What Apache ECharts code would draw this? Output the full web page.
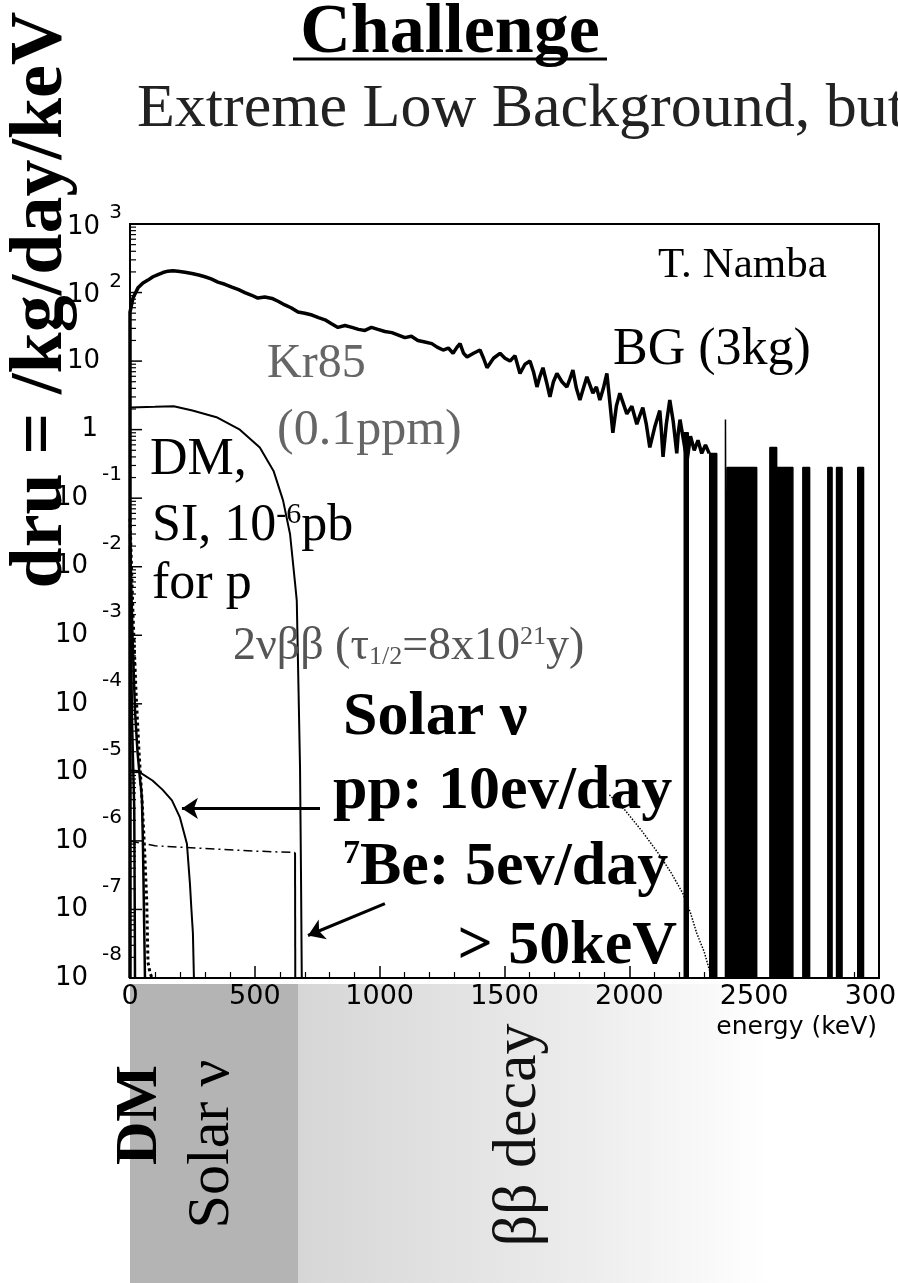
<!DOCTYPE html>
<html>
<head>
<meta charset="utf-8">
<title>Challenge</title>
<script src="https://cdn.jsdelivr.net/npm/echarts@6/dist/echarts.min.js"></script>
<style>
  html, body { margin: 0; padding: 0; background: #fff; }
  #main { width: 898px; height: 1283px; }
</style>
</head>
<body>
<div id="main"></div>
<script>
// axes
var xTicks = [0, 500, 1000, 1500, 2000, 2500, 3000];
var yTickExp = [-8, -7, -6, -5, -4, -3, -2, -1, 0, 1, 2, 3];
var minorMult = [2, 3, 4, 5, 6, 7, 8, 9];

// BG (3kg) measured spectrum, energy in keV, rate in dru
var bgE = [0, 0, 12, 32, 52, 72, 92, 112, 132, 152,
  172, 192, 220, 248, 275, 300, 325, 352, 380, 408,
  435, 460, 485, 512, 540, 569, 595, 620, 645, 673,
  700, 729, 755, 781, 807, 833, 861, 889, 915, 941,
  967, 993, 1021, 1049, 1075, 1101, 1127, 1153, 1181, 1209,
  1230, 1254, 1275, 1294, 1310, 1322, 1336, 1350, 1376, 1402,
  1416, 1430, 1456, 1482, 1502, 1522, 1542, 1562, 1582, 1602,
  1616, 1630, 1642, 1654, 1668, 1682, 1696, 1710, 1730, 1750,
  1762, 1774, 1788, 1802, 1816, 1830, 1842, 1854, 1868, 1882,
  1896, 1910, 1922, 1934, 1948, 1962, 1976, 1990, 2010, 2030,
  2042, 2054, 2068, 2082, 2102, 2122, 2128, 2135, 2148, 2162,
  2176, 2190, 2196, 2203, 2217, 2231, 2245, 2260, 2275, 2290,
  2305, 2320];
var bgV = [1e-8, 52, 83, 117, 138, 152, 170, 183, 196, 205,
  208, 204, 198, 190, 180, 170, 158, 142, 132, 120,
  110, 100, 92, 83, 86, 82, 74, 66, 60, 52,
  50, 47, 43, 40, 35, 31, 33, 31, 29, 28,
  31, 29, 27, 26, 24, 22, 23, 20, 19, 18,
  16, 14.5, 15.5, 13, 16, 18, 13, 11.5, 13, 14.5,
  11, 8, 11, 13, 11, 10, 12, 6.6, 9, 10,
  7, 4.2, 6, 8, 5, 3, 5, 6.6, 5, 4.2,
  5.5, 7.4, 4, 2.7, 4, 5.9, 4.5, 3.4, 4.2, 2.7,
  4, 6.6, 2.5, 0.9, 2.2, 3.4, 2.4, 1.7, 2.2, 1.2,
  1.6, 2.1, 1.2, 0.55, 1.1, 1.9, 1.0, 0.4, 1.2, 2.7,
  1.3, 0.45, 0.9, 1.4, 0.7, 0.35, 0.8, 0.5, 0.7, 0.45,
  0.6, 0.45];

// sparse high-energy bins of BG (bins with counts, empty elsewhere)
var blkStart = [2220, 2322, 2385, 2392, 2563, 2590, 2695, 2795, 2830, 2915];
var blkEnd   = [2236, 2350, 2392, 2510, 2590, 2655, 2722, 2812, 2852, 2938];
var blkTop   = [0.9, 0.45, 1.4, 0.28, 0.55, 0.28, 0.28, 0.28, 0.28, 0.28];

// Kr85 (0.1 ppm)
var krE = [0, 100, 175, 250, 350, 440, 520, 575, 613, 641, 661, 668, 675, 681, 685, 688];
var krV = [2.1, 2.15, 2.2, 1.9, 1.5, 1.0, 0.55, 0.25, 0.093, 0.03, 0.0058, 0.0032, 1.6e-4, 1.2e-5, 3e-7, 1e-8];

// 2vbb (visible tail)
var bbE = [1920, 1983, 2050, 2120, 2170, 2215, 2245, 2270, 2300, 2322, 2335];
var bbV = [4.7e-6, 2.8e-6, 1.4e-6, 6.3e-7, 3.3e-7, 1.7e-7, 8.9e-8, 4.5e-8, 2.4e-8, 1.26e-8, 1e-8];

// solar pp
var ppE = [0, 30, 90, 130, 168, 200, 228, 240, 246, 252, 256];
var ppV = [1.07e-5, 1.05e-5, 7.6e-6, 5.6e-6, 3.9e-6, 2.2e-6, 9.1e-7, 2.4e-7, 1e-7, 4.5e-8, 1e-8];

// solar 7Be
var beE = [0, 30, 100, 200, 350, 500, 650, 661, 662];
var beV = [1.0e-6, 9.5e-7, 8.5e-7, 8.1e-7, 7.6e-7, 7.1e-7, 6.8e-7, 6.8e-7, 1e-8];

// DM, SI 1e-6 pb
var dmAE = [0, 4, 8, 12, 17, 19, 20];
var dmAV = [2e-2, 1e-3, 6e-5, 1.5e-5, 3e-6, 1e-7, 1e-8];
var dmBE = [0, 10, 20, 30, 40, 44, 48, 52, 55, 58, 60];
var dmBV = [3e-2, 1e-3, 8e-5, 2e-5, 8e-6, 6e-6, 4e-6, 8e-7, 1.5e-7, 3e-8, 1e-8];
var dmCE = [0, 12, 24, 36, 48, 58, 67, 72, 80, 88];
var dmCV = [5e-2, 2e-3, 1.5e-4, 2e-5, 4e-6, 8e-7, 1.3e-7, 1.7e-8, 1.2e-8, 1e-8];

// annotation arrows [from, to] in keV / dru
var arrowPP = [[761, 2.98e-6], [208, 2.98e-6]];
var arrowBe = [[1021, 1.22e-7], [713, 4.17e-8]];

function zip(e, v) {
  var out = [];
  for (var i = 0; i < e.length; i++) out.push([e[i], v[i]]);
  return out;
}

var blkData = [];
for (var i = 0; i < blkStart.length; i++) {
  blkData.push([blkStart[i], 1e-8], [blkStart[i], blkTop[i]], [blkEnd[i], blkTop[i]], [blkEnd[i], 1e-8]);
}
blkData.unshift([2200, 1e-8]);
blkData.push([3000, 1e-8]);

// decade ticks (major, labelled) and 2..9 minor ticks on the log axis
var majorTicks = yTickExp.map(function (e) { return [0, Math.pow(10, e), e]; });
var minorTicks = [];
yTickExp.slice(0, -1).forEach(function (e) {
  minorMult.forEach(function (m) { minorTicks.push([0, m * Math.pow(10, e)]); });
});

var serif = '"Liberation Serif", "Times New Roman", serif';
var sans = '"DejaVu Sans", sans-serif';

var chart = echarts.init(document.getElementById('main'));

function txt(x, y, text, size, opts) {
  opts = opts || {};
  return {
    type: 'text', x: x, y: y, z: 100, rotation: opts.rotation || 0,
    style: {
      text: text,
      font: (opts.weight || 'normal') + ' ' + size + 'px ' + (opts.family || serif),
      fill: opts.color || '#000',
      textAlign: opts.align || 'left',
      textVerticalAlign: 'middle',
      rich: opts.rich
    }
  };
}

function tickText(x, y, s, size) {
  return { type: 'text', x: x, y: y,
    style: { text: s, font: size + 'px ' + sans, fill: '#000', textAlign: 'right', textVerticalAlign: 'middle' } };
}

var lineBase = { type: 'line', showSymbol: false, symbol: 'none', silent: true, z: 5 };
function mk(o) { return Object.assign({}, lineBase, o); }

var option = {
  animation: false,
  backgroundColor: '#fff',
  grid: { left: 130, right: 19, top: 224, bottom: 305, show: true, borderColor: '#000', borderWidth: 2,
    outerBoundsMode: 'none', containLabel: false },
  xAxis: {
    type: 'value', min: xTicks[0], max: xTicks[xTicks.length - 1], interval: xTicks[1] - xTicks[0],
    axisLine: { lineStyle: { color: '#000', width: 2 } },
    axisTick: { inside: true, length: 12, lineStyle: { color: '#000', width: 1.5 } },
    minorTick: { show: true, splitNumber: 5, length: 6, lineStyle: { color: '#000', width: 1.2 } },
    splitLine: { show: false },
    axisLabel: { color: '#000', fontFamily: sans, fontSize: 27, margin: 5, hideOverlap: false,
      formatter: function (v) { return String(v); } }
  },
  yAxis: {
    type: 'log', logBase: 10, min: 1e-8, max: 1e3,
    axisLine: { lineStyle: { color: '#000', width: 2 } },
    axisTick: { show: false },
    axisLabel: { show: false },
    splitLine: { show: false }
  },
  graphic: [
    // shaded bands under the axis
    { type: 'rect', z: 0, shape: { x: 298, y: 984, width: 470, height: 299 },
      style: { fill: { type: 'linear', x: 0, y: 0, x2: 1, y2: 0,
        colorStops: [{ offset: 0, color: '#d6d6d6' }, { offset: 0.6, color: '#ececec' }, { offset: 1, color: '#ffffff' }] } } },
    { type: 'rect', z: 0, shape: { x: 130, y: 984, width: 168, height: 299 }, style: { fill: '#b4b4b4' } },
    // title
    txt(450, 34, 'Challenge', 70, { weight: 'bold', align: 'center' }),
    { type: 'line', z: 100, shape: { x1: 293, y1: 59, x2: 607, y2: 59 }, style: { stroke: '#000', lineWidth: 3 } },
    txt(137, 110, 'Extreme Low Background, but', 62, { color: '#222' }),
    // y axis name
    txt(42, 300, 'dru = /kg/day/keV', 74, { weight: 'bold', align: 'center', rotation: Math.PI / 2 }),
    // annotations inside the plot
    txt(658, 266, 'T. Namba', 43),
    txt(613, 350, 'BG (3kg)', 52),
    txt(267, 364, 'Kr85', 48, { color: '#666' }),
    txt(277, 431, '(0.1ppm)', 50, { color: '#666' }),
    txt(150, 460, 'DM,', 52),
    txt(152, 526, '{a|SI, 10}{s|-6}{a|pb}', 52, { rich: {
      a: { fontFamily: serif, fontSize: 52, lineHeight: 52 },
      s: { fontFamily: serif, fontSize: 30, lineHeight: 30, verticalAlign: 'top' } } }),
    txt(152, 584, 'for p', 52),
    txt(233, 647, '{a|2νββ (τ}{d|1/2}{a|=8x10}{u|21}{a|y)}', 46, { color: '#555', rich: {
      a: { fontFamily: serif, fontSize: 46, lineHeight: 46, color: '#555' },
      d: { fontFamily: serif, fontSize: 26, lineHeight: 26, verticalAlign: 'bottom', color: '#555' },
      u: { fontFamily: serif, fontSize: 26, lineHeight: 26, verticalAlign: 'top', color: '#555' } } }),
    txt(343, 718, 'Solar ν', 62, { weight: 'bold' }),
    txt(333, 792, 'pp: 10ev/day', 62, { weight: 'bold' }),
    txt(343, 868, '{u|7}{a|Be: 5ev/day}', 62, { rich: {
      a: { fontFamily: serif, fontSize: 62, fontWeight: 'bold', lineHeight: 62 },
      u: { fontFamily: serif, fontSize: 34, fontWeight: 'bold', lineHeight: 34, verticalAlign: 'top' } } }),
    txt(677, 947, '> 50keV', 62, { weight: 'bold', align: 'right' }),
    txt(877, 1027, 'energy (keV)', 25, { family: sans, align: 'right' }),
    // vertical labels under the axis
    txt(140, 1115, 'DM', 60, { weight: 'bold', align: 'center', rotation: Math.PI / 2 }),
    txt(212, 1144, 'Solar ν', 60, { align: 'center', rotation: Math.PI / 2 }),
    txt(519, 1135, 'ββ decay', 62, { align: 'center', rotation: Math.PI / 2, color: '#111' })
  ],
  series: [
    mk({ name: 'BG', data: zip(bgE, bgV), lineStyle: { color: '#000', width: 3.5 } }),
    mk({ name: 'BG sparse', data: blkData, lineStyle: { color: '#000', width: 1.5 },
      areaStyle: { color: '#000', opacity: 1, origin: 'start' } }),
    mk({ name: 'Kr85', data: zip(krE, krV), lineStyle: { color: '#000', width: 2 } }),
    mk({ name: '2vbb', data: zip(bbE, bbV), lineStyle: { color: '#000', width: 1.5, type: 'dotted' } }),
    mk({ name: 'pp', data: zip(ppE, ppV), lineStyle: { color: '#000', width: 2 },
      markLine: {
        silent: true, symbol: ['none', 'arrow'], symbolSize: 16, animation: false,
        label: { show: false },
        lineStyle: { color: '#000', width: 3, type: 'solid' },
        data: [
          [{ coord: arrowPP[0] }, { coord: arrowPP[1] }],
          [{ coord: arrowBe[0] }, { coord: arrowBe[1] }]
        ]
      } }),
    mk({ name: '7Be', data: zip(beE, beV).slice(0, beE.length - 1), lineStyle: { color: '#000', width: 1.5, type: [9, 4, 2, 4] } }),
    mk({ name: '7Be edge', data: zip(beE, beV).slice(beE.length - 2), lineStyle: { color: '#000', width: 2 } }),
    mk({ name: 'DM A', data: zip(dmAE, dmAV), lineStyle: { color: '#000', width: 2.5 } }),
    mk({ name: 'DM B', data: zip(dmBE, dmBV), lineStyle: { color: '#000', width: 2.5 } }),
    mk({ name: 'DM C', data: zip(dmCE, dmCV), lineStyle: { color: '#000', width: 3, type: 'dotted' } }),
    {
      type: 'custom', name: 'minor ticks', silent: true, z: 6, data: minorTicks,
      renderItem: function (params, api) {
        var p = api.coord([0, api.value(1)]);
        return { type: 'line', shape: { x1: p[0], y1: p[1], x2: p[0] + 6, y2: p[1] },
          style: { stroke: '#000', lineWidth: 1.2 } };
      }
    },
    {
      type: 'custom', name: 'decade ticks', silent: true, z: 6, clip: false, data: majorTicks,
      renderItem: function (params, api) {
        var p = api.coord([0, api.value(1)]);
        var x = p[0], y = p[1], e = api.value(2);
        var kids = [{ type: 'line', shape: { x1: x, y1: y, x2: x + 12, y2: y },
          style: { stroke: '#000', lineWidth: 1.5 } }];
        if (e === 0) kids.push(tickText(x - 32, y, '1', 26));
        else if (e === 1) kids.push(tickText(x - 30, y, '10', 26));
        else if (e > 0) { kids.push(tickText(x - 30, y + 3, '10', 26)); kids.push(tickText(x - 8, y - 11, String(e), 20)); }
        else { kids.push(tickText(x - 42, y, '10', 26)); kids.push(tickText(x - 8, y - 23, String(e), 20)); }
        return { type: 'group', children: kids };
      }
    }
  ]
};

chart.setOption(option);
</script>
</body>
</html>
